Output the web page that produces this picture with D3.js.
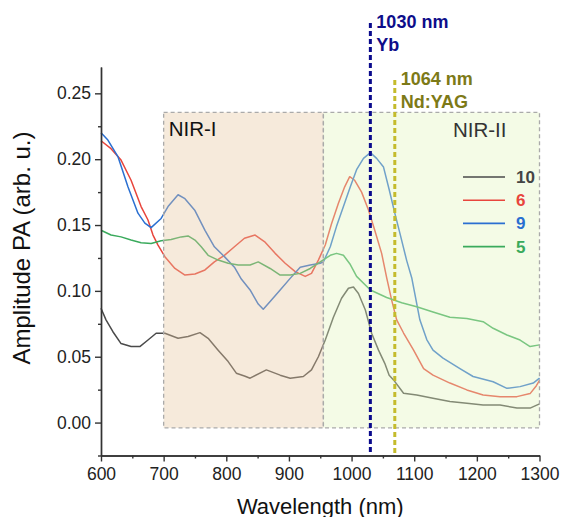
<!DOCTYPE html>
<html>
<head>
<meta charset="utf-8">
<script src="https://cdn.jsdelivr.net/npm/d3@7"></script>
<style>
  body { margin: 0; background: #fff; }
  text { font-family: "Liberation Sans", Arial, sans-serif; }
</style>
</head>
<body>
<script>
// spectra: [wavelength nm, amplitude]
var s10 = [[600,0.0868],[608,0.078],[619,0.069],[632,0.060],[648,0.0577],[662,0.0577],[675,0.0627],[688,0.0678],
  [702,0.0678],[723,0.064],[739,0.0653],[758,0.0683],[771,0.064],[787,0.055],[803,0.0463],[816,0.0375],[829,0.0354],
  [838,0.0337],[864,0.040],[886,0.036],[902,0.0337],[923,0.035],[936,0.040],[947,0.050],[958,0.0627],[971,0.080],
  [984,0.0944],[995,0.102],[1003,0.103],[1011,0.098],[1022,0.0855],[1032,0.0678],[1043,0.055],[1053,0.045],
  [1060,0.036],[1067,0.0324],[1083,0.0223],[1104,0.021],[1130,0.0185],[1157,0.016],[1184,0.0147],[1210,0.0134],
  [1237,0.0134],[1264,0.011],[1285,0.011],[1300,0.0142]];
var s6 = [[600,0.214],[616,0.208],[632,0.1993],[648,0.184],[664,0.164],[675,0.1538],[683,0.1424],[691,0.1348],
  [702,0.126],[718,0.117],[734,0.112],[750,0.1128],[766,0.1159],[781,0.122],[797,0.127],[813,0.1335],[829,0.140],
  [846,0.1424],[862,0.137],[878,0.1285],[894,0.121],[910,0.1146],[926,0.111],[936,0.1133],[947,0.1234],[958,0.1348],
  [968,0.151],[979,0.1665],[989,0.179],[997,0.1867],[1005,0.184],[1016,0.175],[1027,0.1614],[1037,0.146],
  [1048,0.1285],[1056,0.110],[1064,0.093],[1072,0.078],[1083,0.068],[1099,0.055],[1115,0.041],[1130,0.036],
  [1157,0.030],[1184,0.0248],[1210,0.021],[1237,0.0197],[1264,0.0197],[1285,0.022],[1295,0.028],[1300,0.032]];
var s9 = [[600,0.220],[611,0.2145],[627,0.202],[643,0.179],[659,0.159],[670,0.1515],[680,0.148],[696,0.155],
  [707,0.164],[723,0.173],[734,0.170],[750,0.161],[766,0.146],[781,0.1335],[797,0.126],[813,0.118],[824,0.109],
  [838,0.1007],[851,0.090],[859,0.086],[870,0.092],[886,0.1007],[902,0.1095],[918,0.118],[934,0.1197],[950,0.121],
  [955,0.122],[966,0.1335],[976,0.149],[987,0.164],[998,0.179],[1008,0.192],[1019,0.2006],[1030,0.205],
  [1040,0.2006],[1051,0.194],[1060,0.177],[1069,0.159],[1077,0.144],[1088,0.123],[1096,0.110],[1109,0.078],
  [1120,0.063],[1130,0.055],[1146,0.049],[1173,0.041],[1194,0.035],[1226,0.031],[1248,0.026],[1269,0.0273],
  [1290,0.030],[1300,0.0337]];
var s5 = [[600,0.146],[616,0.1424],[632,0.141],[648,0.1386],[664,0.1366],[680,0.136],[696,0.138],[712,0.139],
  [728,0.141],[739,0.1417],[750,0.1386],[760,0.1335],[771,0.127],[787,0.1234],[803,0.121],[819,0.1197],[838,0.1197],
  [851,0.122],[870,0.117],[886,0.112],[902,0.112],[918,0.1133],[934,0.117],[950,0.122],[966,0.127],[976,0.1285],
  [987,0.127],[998,0.120],[1008,0.111],[1030,0.1007],[1056,0.095],[1080,0.091],[1104,0.088],[1130,0.084],
  [1157,0.080],[1184,0.079],[1210,0.0766],[1226,0.0716],[1248,0.0665],[1269,0.0627],[1285,0.0577],[1300,0.059]];

var names = ["10", "6", "9", "5"];
var series = [s10, s6, s9, s5];
var colors = ["#4a4a4a", "#e8453c", "#2a6fd1", "#3aaa5c"];

// shaded bands: [label, from nm, to nm]
var bandNames = ["NIR-I", "NIR-II"];
var bandFrom = [700, 955];
var bandTo = [955, 1300];
var bandTop = 0.2355, bandBottom = -0.004;

// laser lines
var laserPos = [1030, 1069];
var laserText = [["1030 nm", "Yb"], ["1064 nm", "Nd:YAG"]];

var xTicks = [600, 700, 800, 900, 1000, 1100, 1200, 1300];
var yTicks = [0, 0.05, 0.10, 0.15, 0.20, 0.25];

var body = d3.select("body");
var svg = body.append("svg").attr("width", 563).attr("height", 517);

var x = d3.scaleLinear().domain([600, 1300]).range([101, 539.5]);
var y = d3.scaleLinear().domain([-0.025, 0.27]).range([455.5, 67]);

var line = d3.line().x(function(d) { return x(d[0]); }).y(function(d) { return y(d[1]); });

svg.selectAll("path.spec")
  .data(series)
  .enter().append("path")
  .attr("class", "spec")
  .attr("d", line)
  .attr("fill", "none")
  .attr("stroke", function(d, i) { return colors[i]; })
  .attr("stroke-width", 1.5)
  .attr("stroke-linejoin", "round");

// translucent bands over the curves
var bandFill = ["#e8c8a0", "#e3f4bd"];
svg.selectAll("rect.band")
  .data(bandNames)
  .enter().append("rect")
  .attr("class", "band")
  .attr("x", function(d, i) { return x(bandFrom[i]); })
  .attr("width", function(d, i) { return x(bandTo[i]) - x(bandFrom[i]); })
  .attr("y", y(bandTop))
  .attr("height", y(bandBottom) - y(bandTop))
  .attr("fill", function(d, i) { return bandFill[i]; })
  .attr("fill-opacity", 0.38)
  .attr("stroke", "#aaa")
  .attr("stroke-width", 1.3)
  .attr("stroke-dasharray", "4,3");

svg.append("text").attr("x", x(bandFrom[0]) + 5).attr("y", 136)
  .attr("font-size", 20.5).attr("fill", "#111").text(bandNames[0]);
svg.append("text").attr("x", x(bandTo[1]) - 33).attr("y", 137).attr("text-anchor", "end")
  .attr("font-size", 20.5).attr("fill", "#333").text(bandNames[1]);

// laser wavelengths
var laserLine = ["#0a0a8c", "#c4bb2c"];
var laserInk = ["#0d0d8a", "#7d7a17"];
var laserTop = [23, 80];
laserPos.forEach(function(p, i) {
  svg.append("line")
    .attr("x1", x(p)).attr("x2", x(p))
    .attr("y1", laserTop[i]).attr("y2", 454)
    .attr("stroke", laserLine[i]).attr("stroke-width", 3)
    .attr("stroke-dasharray", "5,3");
  svg.append("text").attr("x", x(p) + 6).attr("y", laserTop[i] + 5)
    .attr("font-size", 18).attr("font-weight", "bold").attr("fill", laserInk[i])
    .text(laserText[i][0]);
  svg.append("text").attr("x", x(p) + 6).attr("y", laserTop[i] + 28)
    .attr("font-size", 18).attr("font-weight", "bold").attr("fill", laserInk[i])
    .text(laserText[i][1]);
});

// legend
var legend = svg.selectAll("g.leg")
  .data(names)
  .enter().append("g")
  .attr("class", "leg")
  .attr("transform", function(d, i) { return "translate(463," + (177 + i * 23.2) + ")"; });
legend.append("line").attr("x1", 0).attr("x2", 42)
  .attr("stroke", function(d, i) { return colors[i]; }).attr("stroke-width", 1.6);
legend.append("text").attr("x", 53).attr("y", 6)
  .attr("font-size", 17).attr("font-weight", "bold")
  .attr("fill", function(d, i) { return i == 0 ? "#444" : colors[i]; })
  .text(function(d) { return d; });

// axes
var xAxis = d3.axisBottom(x).tickValues(xTicks).tickFormat(d3.format("d")).tickSize(6).tickSizeOuter(0).tickPadding(6);
var xMinor = d3.axisBottom(x).tickValues([650, 750, 850, 950, 1050, 1150, 1250]).tickFormat("").tickSize(3).tickSizeOuter(0);
var yAxis = d3.axisLeft(y).tickValues(yTicks).tickFormat(d3.format(".2f")).tickSize(6).tickSizeOuter(0).tickPadding(4);
var yMinor = d3.axisLeft(y).tickValues([-0.025, 0.025, 0.075, 0.125, 0.175, 0.225]).tickFormat("").tickSize(3).tickSizeOuter(0);

svg.append("g").attr("transform", "translate(0,455.5)").call(xAxis);
svg.append("g").attr("transform", "translate(0,455.5)").call(xMinor);
svg.append("g").attr("transform", "translate(101,0)").call(yAxis);
svg.append("g").attr("transform", "translate(101,0)").call(yMinor);

svg.selectAll(".domain, .tick line").attr("stroke", "#333").attr("stroke-width", 1.4);
svg.selectAll(".tick text").attr("font-size", 17.5).attr("fill", "#222")
  .attr("font-family", "'Liberation Sans', Arial, sans-serif");

svg.append("text").attr("x", x(950)).attr("y", 514).attr("text-anchor", "middle")
  .attr("font-size", 22).attr("fill", "#111").text("Wavelength (nm)");
svg.append("text").attr("transform", "translate(30,248) rotate(-90)").attr("text-anchor", "middle")
  .attr("font-size", 24).attr("fill", "#111").text("Amplitude PA (arb. u.)");
</script>
</body>
</html>
